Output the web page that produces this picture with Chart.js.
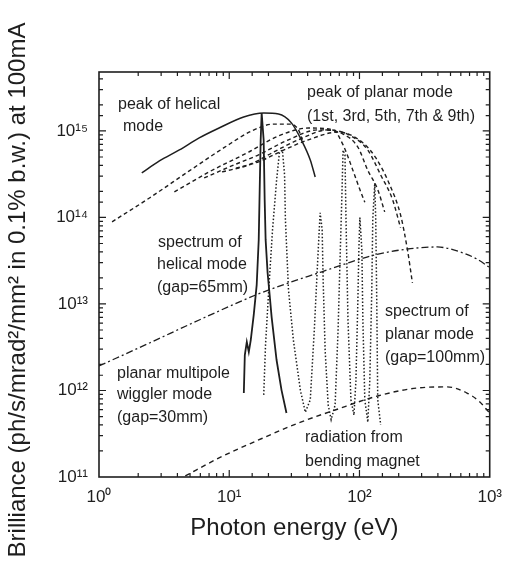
<!DOCTYPE html>
<html lang="en">
<head>
<meta charset="UTF-8" />
<title>Brilliance vs photon energy</title>
<script src="https://cdn.jsdelivr.net/npm/chart.js"></script>
<style>
  html, body { margin: 0; padding: 0; background: #fff; }
  #wrap { width: 512px; height: 567px; }
</style>
</head>
<body>
<div id="wrap"><canvas id="chart" width="512" height="567"></canvas></div>
<script>
// photon energy (eV) and brilliance values

// peak of helical mode (solid)
const helicalPeakE = [2.13, 2.91, 4.14, 5.88, 8.35, 12.9, 18.4, 23.9, 30.0, 35.8, 41.9, 45.7];
const helicalPeakB = [3.27e14, 4.5e14, 6.03e14, 8.3e14, 1.08e15, 1.45e15, 1.61e15, 1.57e15, 1.24e15, 7.87e14, 4.62e14, 2.94e14];

// spectrum of helical mode, gap=65mm (solid)
const helicalSpecE = [12.94, 13.17, 13.64, 14.13, 14.63, 15.42, 16.25, 16.84, 17.13, 17.43, 17.74, 18.38, 18.71, 19.03, 19.7, 20.5, 21.15, 23.09, 25.2, 27.51];
const helicalSpecB = [9.35e11, 2.57e12, 3.64e12, 2.79e12, 3.83e12, 7.46e12, 1.66e13, 5.5e13, 2.08e14, 7.87e14, 1.61e15, 7.87e14, 1.59e14, 5.5e13, 2.3e13, 1.2e13, 7.08e12, 2.25e12, 1.01e12, 5.5e11];

// peak of planar mode, harmonics 1,3,5,7,9 (dashed)
const peak1E = [1.26, 2.44, 4.93, 9.11, 14.9, 21.9, 29.5, 34.0, 36.4];
const peak1B = [8.9e13, 1.68e14, 3.45e14, 6.4e14, 1.0e15, 1.2e15, 1.2e15, 1.03e15, 7.9e14];
const peak3E = [3.79, 7.0, 14.1, 23.9, 40.5, 62.7, 74.8, 89.1, 100.7, 109.9];
const peak3B = [1.97e14, 3.36e14, 5.7e14, 8.75e14, 1.08e15, 1.03e15, 6.9e14, 3.5e14, 2.1e14, 1.5e14];
const peak5E = [6.42, 10.9, 16.8, 28.5, 48.2, 74.8, 97.2, 115.9, 138.1, 156.2];
const peak5B = [2.86e14, 4.05e14, 5.3e14, 7.9e14, 1.03e15, 9.2e14, 6.5e14, 3.5e14, 2.1e14, 1.16e14];
const peak7E = [8.8, 14.1, 21.9, 34.0, 57.5, 89.1, 115.9, 145.5, 179.7, 206.7];
const peak7B = [3.36e14, 4.05e14, 5.7e14, 7.9e14, 1.03e15, 8.5e14, 6.0e14, 3.1e14, 1.6e14, 7.6e13];
const peak9E = [11.25, 16.8, 26.1, 40.5, 68.5, 106.2, 133.3, 170.4, 206.7, 233.7, 255];
const peak9B = [3.7e14, 4.4e14, 6.0e14, 7.9e14, 9.7e14, 7.3e14, 4.9e14, 2.4e14, 1.07e14, 4.2e13, 1.75e13];

// spectrum of planar mode, gap=100mm (dotted)
const planarSpecE = [18.4, 19.0, 20.1, 21.5, 23.1, 24.3, 25.6, 26.6, 27.0, 28.5, 31.1, 35.2, 38.4, 41.9, 45.0, 47.4, 49.1, 49.9, 51.7, 52.6, 54.5, 57.5, 60.6, 65.0, 68.5, 70.9, 73.5, 74.8, 77.4, 78.8, 81.6, 86.0, 90.7, 93.9, 97.2, 98.9, 100.7, 104.3, 106.2, 109.9, 115.9, 120.0, 124.3, 126.5, 131.0, 133.3, 135.7, 138.1, 145.5];
const planarSpecB = [8.9e11, 3.4e12, 1.45e13, 7.2e13, 2.7e14, 5.7e14, 6.0e14, 3.1e14, 9.4e13, 1.45e13, 3.8e12, 1.0e12, 5.6e11, 7.8e11, 5.0e12, 2.5e13, 7.2e13, 1.13e14, 7.2e13, 1.9e13, 2.9e12, 6.8e11, 4.6e11, 6.8e11, 5.0e12, 3.2e13, 2.1e14, 6.0e14, 5.3e14, 9.4e13, 6.5e12, 7.8e11, 5.2e11, 1.3e12, 1.1e13, 4.2e13, 1.0e14, 4.2e13, 6.5e12, 7.8e11, 4.3e11, 1.3e12, 1.45e13, 9.4e13, 2.5e14, 9.4e13, 1.1e13, 7.8e11, 4.0e11];

// planar multipole wiggler mode, gap=30mm (dash-dot)
const wigglerE = [1.0, 2.44, 5.88, 15.97, 28.5, 50.8, 81.6, 131, 234, 395, 561, 797, 984];
const wigglerB = [1.92e12, 3.54e12, 6.53e12, 1.27e13, 1.75e13, 2.34e13, 2.98e13, 3.68e13, 4.32e13, 4.56e13, 4.1e13, 3.31e13, 2.68e13];

// radiation from bending magnet (dashed)
const bendE = [4.6, 8.35, 16.8, 34.0, 65.0, 138, 279, 471, 669, 840, 984];
const bendB = [1.03e11, 1.66e11, 2.68e11, 4.21e11, 5.95e11, 8.64e11, 1.07e12, 1.1e12, 9.35e11, 7.36e11, 5.64e11];

const xMin = 1, xMax = 1000;
const yMin = 1e11, yMax = 4.8e15;

const ink = '#1e1e1e';
const font = '"Liberation Sans", Arial, Helvetica, sans-serif';

function pts(xs, ys) {
  return xs.map((x, i) => ({ x: x, y: ys[i] }));
}

function line(xs, ys, dash, width, smooth) {
  return {
    data: pts(xs, ys),
    borderColor: ink,
    borderWidth: width,
    borderDash: dash,
    pointRadius: 0,
    fill: false,
    tension: 0,
    cubicInterpolationMode: smooth ? 'monotone' : 'default'
  };
}

const supDigits = { '0': '\u2070', '1': '\u00b9', '2': '\u00b2', '3': '\u00b3', '4': '\u2074', '5': '\u2075', '6': '\u2076', '7': '\u2077', '8': '\u2078', '9': '\u2079' };
function isDecade(v) {
  const p = Math.log10(v);
  return Math.abs(p - Math.round(p)) < 1e-6;
}
function powLabel(v) {
  if (!isDecade(v)) return '';
  const p = String(Math.round(Math.log10(v)));
  return '10' + p.split('').map(d => supDigits[d]).join('');
}

// text labels placed on the plot
const notes = [
  ['peak of helical', 118, 105],
  ['mode', 123, 127],
  ['peak of planar mode', 307, 93],
  ['(1st, 3rd, 5th, 7th & 9th)', 307, 117],
  ['spectrum of', 158, 243],
  ['helical mode', 157, 265],
  ['(gap=65mm)', 157, 288],
  ['planar multipole', 117, 374],
  ['wiggler mode', 117, 395],
  ['(gap=30mm)', 117, 418],
  ['spectrum of', 385, 312],
  ['planar mode', 385, 335],
  ['(gap=100mm)', 385, 358],
  ['radiation from', 305, 438],
  ['bending magnet', 305, 462]
];

const framePlugin = {
  id: 'frame',
  afterDatasetsDraw(chart) {
    const { ctx, chartArea: a, scales } = chart;
    const x = scales.x, y = scales.y;
    ctx.save();
    ctx.strokeStyle = ink;
    ctx.lineWidth = 1.6;
    ctx.setLineDash([]);
    ctx.strokeRect(a.left, a.top, a.right - a.left, a.bottom - a.top);

    ctx.lineWidth = 1.2;
    ctx.beginPath();
    x.ticks.forEach(t => {
      const px = x.getPixelForValue(t.value);
      if (px <= a.left + 1 || px >= a.right - 1) return;
      const len = isDecade(t.value) ? 7 : 4;
      ctx.moveTo(px, a.bottom); ctx.lineTo(px, a.bottom - len);
      ctx.moveTo(px, a.top); ctx.lineTo(px, a.top + len);
    });
    y.ticks.forEach(t => {
      const py = y.getPixelForValue(t.value);
      if (py <= a.top + 1 || py >= a.bottom - 1) return;
      const len = isDecade(t.value) ? 7 : 4;
      ctx.moveTo(a.left, py); ctx.lineTo(a.left + len, py);
      ctx.moveTo(a.right, py); ctx.lineTo(a.right - len, py);
    });
    ctx.stroke();

    ctx.fillStyle = ink;
    ctx.font = '16px ' + font;
    ctx.textAlign = 'left';
    ctx.textBaseline = 'middle';
    notes.forEach(n => ctx.fillText(n[0], n[1], n[2]));

    // y axis title
    ctx.translate(25, 290);
    ctx.rotate(-Math.PI / 2);
    ctx.font = '24px ' + font;
    ctx.textAlign = 'center';
    ctx.textBaseline = 'alphabetic';
    ctx.fillText('Brilliance (ph/s/mrad\u00b2/mm\u00b2 in 0.1% b.w.) at 100mA', 0, 0);
    ctx.restore();
  }
};

new Chart(document.getElementById('chart'), {
  type: 'line',
  data: {
    datasets: [
      line(helicalPeakE, helicalPeakB, [], 1.5, true),
      line(helicalSpecE, helicalSpecB, [], 1.8, false),
      line(peak1E, peak1B, [4, 3], 1.4, true),
      line(peak3E, peak3B, [4, 3], 1.4, true),
      line(peak5E, peak5B, [4, 3], 1.4, true),
      line(peak7E, peak7B, [4, 3], 1.4, true),
      line(peak9E, peak9B, [4, 3], 1.4, true),
      line(planarSpecE, planarSpecB, [1.5, 2], 1.5, false),
      line(wigglerE, wigglerB, [7, 3, 2, 3], 1.3, true),
      line(bendE, bendB, [5, 4], 1.4, true)
    ]
  },
  options: {
    responsive: false,
    animation: false,
    layout: { padding: { top: 72, right: 20, left: 0, bottom: 0 } },
    plugins: { legend: { display: false }, tooltip: { enabled: false } },
    scales: {
      x: {
        type: 'logarithmic',
        min: xMin,
        max: xMax,
        afterFit(s) { s.height = 90; },
        grid: { display: false, drawTicks: false },
        border: { display: false },
        ticks: {
          autoSkip: false,
          maxRotation: 0,
          padding: 10,
          color: ink,
          font: { family: font, size: 17 },
          callback: v => powLabel(v)
        },
        title: {
          display: true,
          text: 'Photon energy (eV)',
          color: ink,
          font: { family: font, size: 24 },
          padding: { top: 0, bottom: 24 }
        }
      },
      y: {
        type: 'logarithmic',
        min: yMin,
        max: yMax,
        afterFit(s) { s.width = 99; },
        grid: { display: false, drawTicks: false },
        border: { display: false },
        ticks: {
          autoSkip: false,
          padding: 11,
          color: ink,
          font: { family: font, size: 17 },
          callback: v => powLabel(v)
        }
      }
    }
  },
  plugins: [framePlugin]
});
</script>
</body>
</html>
